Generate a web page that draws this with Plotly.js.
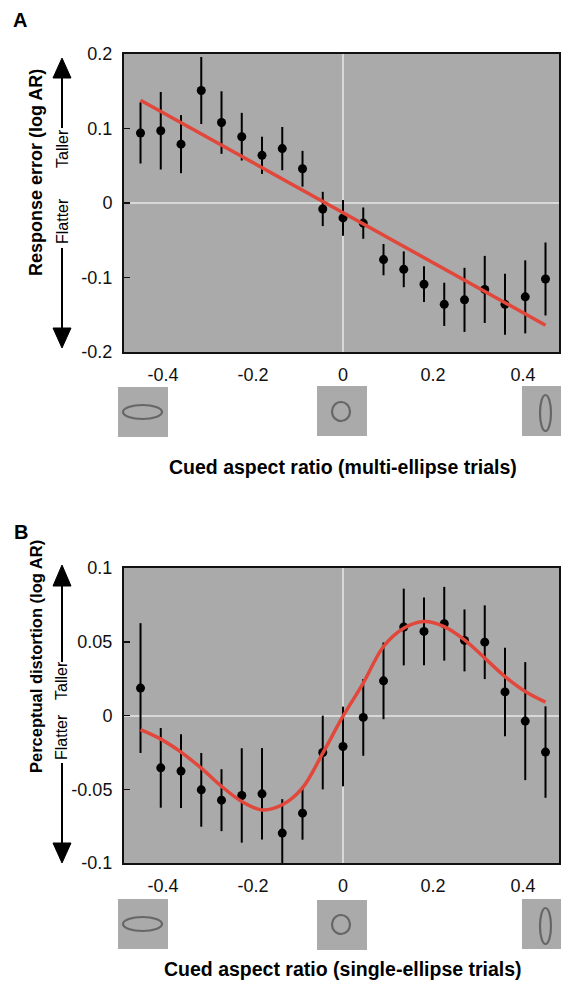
<!DOCTYPE html>
<html>
<head>
<meta charset="utf-8">
<script src="https://cdn.plot.ly/plotly-3.0.1.min.js"></script>
<style>html,body{margin:0;padding:0;background:#fff;}#chart{width:561px;height:981px;}</style>
</head>
<body>
<div id="chart"></div>
<script>
// ---------- DATA ----------
const cuedAR = [-0.45,-0.405,-0.36,-0.315,-0.27,-0.225,-0.18,-0.135,-0.09,-0.045,0,
                0.045,0.09,0.135,0.18,0.225,0.27,0.315,0.36,0.405,0.45];

// Panel A: response error (multi-ellipse trials)
const errA  = [0.094,0.097,0.079,0.151,0.108,0.089,0.064,0.073,0.046,-0.008,-0.020,
               -0.027,-0.076,-0.089,-0.109,-0.136,-0.130,-0.116,-0.136,-0.126,-0.102];
const semA  = [0.041,0.052,0.039,0.045,0.042,0.032,0.025,0.029,0.024,0.023,0.024,
               0.021,0.021,0.024,0.024,0.029,0.043,0.045,0.041,0.049,0.049];
const fitAx = [-0.45, 0.45];
const fitAy = [0.138, -0.164];

// Panel B: perceptual distortion (single-ellipse trials)
const distB = [0.0186,-0.0355,-0.0377,-0.0504,-0.0574,-0.0542,-0.0531,-0.0797,-0.0662,-0.0251,-0.021,
               -0.0013,0.0235,0.060,0.057,0.0622,0.0509,0.0497,0.016,-0.0038,-0.0248];
const semB  = [0.044,0.027,0.025,0.025,0.021,0.032,0.031,0.023,0.018,0.025,0.027,
               0.026,0.026,0.026,0.023,0.025,0.021,0.025,0.030,0.040,0.031];
const fitBx = [-0.45,-0.405,-0.36,-0.315,-0.27,-0.225,-0.18,-0.135,-0.09,-0.045,0,
               0.045,0.09,0.135,0.18,0.225,0.27,0.315,0.36,0.405,0.45];
const fitBy = [-0.0096,-0.016,-0.0248,-0.0357,-0.048,-0.0583,-0.064,-0.0605,-0.049,-0.0255,-0.0005,
               0.022,0.0468,0.0592,0.0637,0.0603,0.0513,0.0389,0.0264,0.0163,0.0091];

const xTickVals = [-0.4,-0.2,0,0.2,0.4];
const xTickText = ['-0.4','-0.2','0','0.2','0.4'];
const yTickValsA = [-0.2,-0.1,0,0.1,0.2];
const yTickTextA = ['-0.2','-0.1','0','0.1','0.2'];
const yTickValsB = [-0.1,-0.05,0,0.05,0.1];
const yTickTextB = ['-0.1','-0.05','0','0.05','0.1'];

const titleA = 'Response error (log AR)';
const titleB = 'Perceptual distortion (log AR)';
const xTitleA = 'Cued aspect ratio (multi-ellipse trials)';
const xTitleB = 'Cued aspect ratio (single-ellipse trials)';

// ---------- LAYOUT ----------
const W = 561, H = 981;
const M = {l:124, r:2, t:54, b:118};
const PW = W - M.l - M.r, PH = H - M.t - M.b;
const P = px => (px - M.l) / PW;          // pixel x -> paper
const Q = py => (H - M.b - py) / PH;      // pixel y -> paper

const FONT = 'Liberation Sans, Arial, Helvetica, sans-serif';
const RED = '#e2473b';
const BG = '#aaaaaa';

const traces = [
  {x: cuedAR, y: errA, type:'scatter', mode:'markers', xaxis:'x', yaxis:'y',
   marker:{color:'#000', size:9},
   error_y:{type:'data', array: semA, visible:true, color:'#000', thickness:2, width:0}},
  {x: fitAx, y: fitAy, type:'scatter', mode:'lines', xaxis:'x', yaxis:'y',
   line:{color:RED, width:3.5}},
  {x: cuedAR, y: distB, type:'scatter', mode:'markers', xaxis:'x2', yaxis:'y2',
   marker:{color:'#000', size:9},
   error_y:{type:'data', array: semB, visible:true, color:'#000', thickness:2, width:0}},
  {x: fitBx, y: fitBy, type:'scatter', mode:'lines', xaxis:'x2', yaxis:'y2',
   line:{color:RED, width:3.5, shape:'spline', smoothing:1}}
];

const xAxisBase = {
  range:[-0.4867, 0.48], tickvals:xTickVals, ticktext:xTickText, ticks:'',
  showgrid:false, zeroline:true, zerolinecolor:'#d8d8d8', zerolinewidth:2,
  showline:true, mirror:true, linecolor:'#111', linewidth:2,
  tickfont:{family:FONT, size:18, color:'#111'}, ticklabelstandoff:5, fixedrange:true
};
const yAxisBase = {
  ticks:'inside', ticklen:6, tickwidth:1.5, tickcolor:'#111',
  showgrid:false, zeroline:true, zerolinecolor:'#d8d8d8', zerolinewidth:2,
  showline:true, mirror:true, linecolor:'#111', linewidth:2,
  tickfont:{family:FONT, size:18, color:'#111'}, ticklabelstandoff:6, fixedrange:true
};

const shapes = [];
const annotations = [];

function arrowUp(x, tip, base, lineEnd){
  shapes.push({type:'line', xref:'paper', yref:'paper', x0:P(x), x1:P(x), y0:Q(lineEnd), y1:Q(base-2),
               line:{color:'#000', width:2}});
  shapes.push({type:'path', xref:'paper', yref:'paper',
    path:`M ${P(x)} ${Q(tip)} L ${P(x-9)} ${Q(base)} L ${P(x+9)} ${Q(base)} Z`,
    fillcolor:'#000', line:{color:'#000', width:1}});
}
function arrowDown(x, tip, base, lineStart){
  shapes.push({type:'line', xref:'paper', yref:'paper', x0:P(x), x1:P(x), y0:Q(lineStart), y1:Q(base+2),
               line:{color:'#000', width:2}});
  shapes.push({type:'path', xref:'paper', yref:'paper',
    path:`M ${P(x)} ${Q(tip)} L ${P(x-9)} ${Q(base)} L ${P(x+9)} ${Q(base)} Z`,
    fillcolor:'#000', line:{color:'#000', width:1}});
}
function icon(x0, y0, ex0, ey0, ex1, ey1){
  shapes.push({type:'rect', xref:'paper', yref:'paper', x0:P(x0), x1:P(x0+50), y0:Q(y0+50), y1:Q(y0),
               fillcolor:BG, line:{width:0}});
  shapes.push({type:'circle', xref:'paper', yref:'paper', x0:P(ex0), x1:P(ex1), y0:Q(ey1), y1:Q(ey0),
               line:{color:'#666', width:2.2}});
}
function txt(text, x, y, size, bold, angle, anchor){
  annotations.push({text: bold ? '<b>'+text+'</b>' : text, xref:'paper', yref:'paper',
    x:P(x), y:Q(y), xanchor:anchor||'center', yanchor:'middle', showarrow:false,
    textangle:angle||0, font:{family:FONT, size:size, color:'#000'}});
}

// Panel A decorations
arrowUp(62, 58, 78, 128);
arrowDown(62, 348, 328, 248);
txt('Taller', 62, 149, 16, false, -90);
txt('Flatter', 62, 221, 16, false, -90);
txt(titleA, 36, 173, 18, true, -90);
txt('A', 11, 20, 20, true, 0, 'left');
txt(xTitleA, 343, 467, 19.5, true, 0);
icon(118, 387, 123, 405, 162, 419);
icon(317, 386, 332, 402, 350, 421);
icon(522, 386, 540, 395, 551, 431);

// Panel B decorations
arrowUp(62, 565, 586, 662);
arrowDown(62, 863, 843, 763);
txt('Taller', 61, 680, 16, false, -90);
txt('Flatter', 61, 737, 16, false, -90);
txt(titleB, 36, 657, 16.5, true, -90);
txt('B', 12, 532, 20, true, 0, 'left');
txt(xTitleB, 343, 969, 19.5, true, 0);
icon(118, 899, 123, 917, 162, 931);
icon(317, 900, 332, 915, 350, 934);
icon(522, 899, 540, 908, 551, 944);

const layout = {
  width:W, height:H, margin:M, paper_bgcolor:'#fff', plot_bgcolor:BG,
  showlegend:false, font:{family:FONT, color:'#111'},
  xaxis: Object.assign({}, xAxisBase, {anchor:'y', domain:[0,1]}),
  yaxis: Object.assign({}, yAxisBase, {anchor:'x', domain:[Q(352), 1], range:[-0.2,0.2],
                        tickvals:yTickValsA, ticktext:yTickTextA}),
  xaxis2: Object.assign({}, xAxisBase, {anchor:'y2', domain:[0,1]}),
  yaxis2: Object.assign({}, yAxisBase, {anchor:'x2', domain:[0, Q(568)], range:[-0.1,0.1],
                        tickvals:yTickValsB, ticktext:yTickTextB}),
  shapes: shapes, annotations: annotations
};

Plotly.newPlot('chart', traces, layout, {staticPlot:true, displayModeBar:false});
</script>
</body>
</html>
